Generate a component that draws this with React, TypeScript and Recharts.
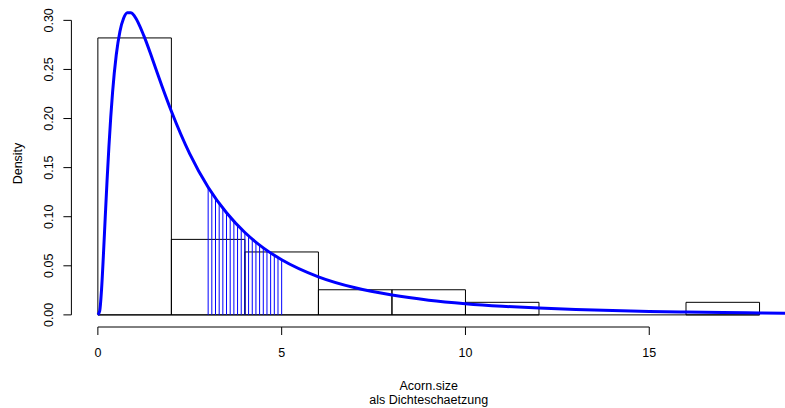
import React from 'react';
import { ComposedChart, Line, XAxis, YAxis, ReferenceArea, ReferenceLine } from 'recharts';

// histogram bins (width 2) and their densities
const binStarts = [0, 2, 4, 6, 8, 10, 12, 14, 16];
const binDensity = [0.2821, 0.0769, 0.0641, 0.0256, 0.0256, 0.0128, 0, 0, 0.0128];

// fitted density curve
const curveX = [0, 0.05, 0.1, 0.15, 0.2, 0.25, 0.3, 0.35, 0.4, 0.5, 0.6, 0.7, 0.8, 0.9, 1.0, 1.25, 1.5, 1.75, 2, 2.5, 3, 3.5, 4, 4.5, 5, 6, 7, 8, 9, 10, 11, 12, 13, 14, 15, 16, 17, 18, 18.72];
const curveY = [0, 0.004, 0.0257, 0.0603, 0.099, 0.1368, 0.171, 0.2011, 0.2267, 0.2647, 0.2887, 0.3021, 0.3078, 0.3078, 0.3041, 0.2845, 0.2589, 0.2324, 0.2074, 0.164, 0.13, 0.104, 0.0839, 0.0683, 0.0562, 0.0388, 0.0276, 0.0202, 0.015, 0.0114, 0.0088, 0.0069, 0.0055, 0.0044, 0.0035, 0.0029, 0.0024, 0.002, 0.0017];

// vertical blue lines under the curve between 3 and 5
const hatchX = [3.0, 3.1, 3.2, 3.3, 3.4, 3.5, 3.6, 3.7, 3.8, 3.9, 4.0, 4.1, 4.2, 4.3, 4.4, 4.5, 4.6, 4.7, 4.8, 4.9, 5.0];
const hatchY = [0.13, 0.1243, 0.1189, 0.1137, 0.1087, 0.104, 0.0996, 0.0954, 0.0913, 0.0875, 0.0839, 0.0805, 0.0772, 0.0741, 0.0711, 0.0683, 0.0657, 0.0631, 0.0607, 0.0583, 0.0562];

const xTicks = [0, 5, 10, 15];
const yTicks = [0, 0.05, 0.1, 0.15, 0.2, 0.25, 0.3];

const X_MIN = -0.72;
const X_MAX = 18.72;
const Y_MIN = -0.01234;
const Y_MAX = 0.32074;

const font = '"Liberation Sans", Arial, Helvetica, sans-serif';
const fs = 12.5;

const curve = curveX.map((x, i) => ({ x, y: curveY[i] }));

const XTick = (props: any) => {
  const { x, y, payload } = props;
  return (
    <g>
      <line x1={x} y1={y} x2={x} y2={y + 8} stroke="#000" />
      <text x={x} y={y + 30} textAnchor="middle" fontSize={fs} fontFamily={font} fill="#000">
        {payload.value}
      </text>
    </g>
  );
};

const YTick = (props: any) => {
  const { x, y, payload } = props;
  return (
    <g>
      <line x1={x - 8} y1={y} x2={x} y2={y} stroke="#000" />
      <text
        transform={`translate(${x - 18.5},${y}) rotate(-90)`}
        textAnchor="middle"
        fontSize={fs}
        fontFamily={font}
        fill="#000"
      >
        {Number(payload.value).toFixed(2)}
      </text>
    </g>
  );
};

const XTitle = (props: any) => {
  const vb = props.viewBox || {};
  const cx = vb.x + vb.width / 2;
  return (
    <g>
      <text x={cx} y={390} textAnchor="middle" fontSize={fs} fontFamily={font} fill="#000">
        Acorn.size
      </text>
      <text x={cx} y={403.5} textAnchor="middle" fontSize={fs} fontFamily={font} fill="#000">
        als Dichteschaetzung
      </text>
    </g>
  );
};

const YTitle = () => (
  <text
    transform="translate(22,163.5) rotate(-90)"
    textAnchor="middle"
    fontSize={fs}
    fontFamily={font}
    fill="#000"
  >
    Density
  </text>
);

export default function App() {
  return (
    <div style={{ position: 'absolute', left: 0, top: 0, background: '#fff' }}>
      <ComposedChart width={785} height={408} margin={{ top: 0, right: -1, bottom: 0, left: 0 }}>
        <XAxis
          dataKey="x"
          type="number"
          domain={[X_MIN, X_MAX]}
          allowDataOverflow
          ticks={xTicks}
          interval={0}
          height={81}
          axisLine={false}
          tickLine={false}
          tickSize={0}
          tickMargin={0}
          tick={XTick}
          label={{ content: XTitle }}
        />
        <YAxis
          type="number"
          domain={[Y_MIN, Y_MAX]}
          allowDataOverflow
          ticks={yTicks}
          interval={0}
          width={71.4}
          axisLine={false}
          tickLine={false}
          tickSize={0}
          tickMargin={0}
          tick={YTick}
          label={{ content: YTitle }}
        />
        {binStarts.map((b, i) =>
          binDensity[i] > 0 ? (
            <ReferenceArea
              key={'bin' + i}
              x1={b}
              x2={b + 2}
              y1={0}
              y2={binDensity[i]}
              fill="none"
              fillOpacity={0}
              stroke="#000"
              strokeWidth={1}
              ifOverflow="visible"
            />
          ) : null
        )}
        <ReferenceLine
          segment={[{ x: binStarts[0], y: 0 }, { x: binStarts[binStarts.length - 1] + 2, y: 0 }]}
          stroke="#000"
          ifOverflow="visible"
        />
        <ReferenceLine
          segment={[{ x: xTicks[0], y: Y_MIN }, { x: xTicks[xTicks.length - 1], y: Y_MIN }]}
          stroke="#000"
          ifOverflow="visible"
        />
        <ReferenceLine
          segment={[{ x: X_MIN, y: yTicks[0] }, { x: X_MIN, y: yTicks[yTicks.length - 1] }]}
          stroke="#000"
          ifOverflow="visible"
        />
        {hatchX.map((hx, i) => (
          <ReferenceLine
            key={'h' + i}
            segment={[{ x: hx, y: 0 }, { x: hx, y: hatchY[i] }]}
            stroke="#0000ff"
            strokeWidth={1}
            ifOverflow="visible"
          />
        ))}
        <Line
          data={curve}
          dataKey="y"
          type="monotone"
          stroke="#0000ff"
          strokeWidth={3}
          dot={false}
          isAnimationActive={false}
        />
      </ComposedChart>
    </div>
  );
}
